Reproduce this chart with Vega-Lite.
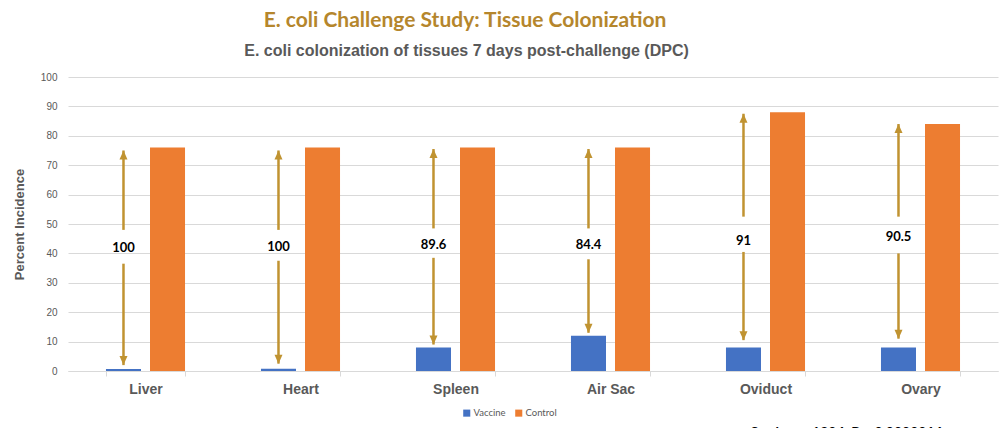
{
  "$schema": "https://vega.github.io/schema/vega-lite/v6.json",
  "autosize": {"type": "none"},
  "width": 930,
  "height": 294,
  "padding": {"left": 68, "top": 77, "right": 3, "bottom": 57},
  "background": "white",
  "config": {
    "view": {"stroke": null},
    "axisY": {
      "titleFont": "Liberation Sans",
      "titleFontSize": 13,
      "titleFontWeight": "bold",
      "titleColor": "#595959",
      "titlePadding": 14,
      "tickCount": 10,
      "labelOverlap": false,
      "labelFont": "Liberation Sans",
      "labelFontSize": 10,
      "labelColor": "#595959",
      "labelPadding": 11,
      "domain": false,
      "ticks": false,
      "grid": true,
      "gridColor": "#D9D9D9"
    }
  },
  "title": {
    "text": "E. coli Challenge Study: Tissue Colonization",
    "anchor": "middle",
    "frame": "group",
    "font": "Lato",
    "fontSize": 21,
    "fontWeight": "bold",
    "color": "#B5862C",
    "dx": -68,
    "offset": 11
  },
  "datasets": {
    "bars": [
      {"tissue": "Liver", "group": "Vaccine", "value": 0.7},
      {"tissue": "Liver", "group": "Control", "value": 76},
      {"tissue": "Heart", "group": "Vaccine", "value": 0.8},
      {"tissue": "Heart", "group": "Control", "value": 76},
      {"tissue": "Spleen", "group": "Vaccine", "value": 8},
      {"tissue": "Spleen", "group": "Control", "value": 76},
      {"tissue": "Air Sac", "group": "Vaccine", "value": 12},
      {"tissue": "Air Sac", "group": "Control", "value": 76},
      {"tissue": "Oviduct", "group": "Vaccine", "value": 8},
      {"tissue": "Oviduct", "group": "Control", "value": 88},
      {"tissue": "Ovary", "group": "Vaccine", "value": 8},
      {"tissue": "Ovary", "group": "Control", "value": 84}
    ],
    "arrows": [
      {"tissue": "Liver", "grp": "Vaccine", "top": 75, "upEnd": 48, "label": "100", "labelY": 42, "lowStart": 36.5, "bottom": 2},
      {"tissue": "Heart", "grp": "Vaccine", "top": 75, "upEnd": 48, "label": "100", "labelY": 42.3, "lowStart": 37.5, "bottom": 2.5},
      {"tissue": "Spleen", "grp": "Vaccine", "top": 75.5, "upEnd": 48.5, "label": "89.6", "labelY": 43, "lowStart": 38.5, "bottom": 9},
      {"tissue": "Air Sac", "grp": "Vaccine", "top": 75.5, "upEnd": 48.5, "label": "84.4", "labelY": 43, "lowStart": 38, "bottom": 13},
      {"tissue": "Oviduct", "grp": "Vaccine", "top": 87.5, "upEnd": 52.5, "label": "91", "labelY": 44.3, "lowStart": 40.5, "bottom": 10.5},
      {"tissue": "Ovary", "grp": "Vaccine", "top": 84, "upEnd": 52.5, "label": "90.5", "labelY": 45.6, "lowStart": 40, "bottom": 11}
    ]
  },
  "resolve": {"axis": {"x": "independent"}},
  "layer": [
    {
      "data": {"name": "bars"},
      "mark": {"type": "bar"},
      "encoding": {
        "x": {
          "field": "tissue",
          "type": "nominal",
          "sort": null,
          "scale": {"domain": ["Liver", "Heart", "Spleen", "Air Sac", "Oviduct", "Ovary"], "paddingInner": 0.49, "paddingOuter": 0.245},
          "axis": {
            "orient": "bottom",
            "title": "Study no. 1804, P < 0.0000016",
            "titleFont": "Lato",
            "titleFontSize": 14,
            "titleFontWeight": "bold",
            "titleColor": "#000000",
            "titleAnchor": "start",
            "titleAlign": "left",
            "titleBaseline": "middle",
            "titleX": 682,
            "titleY": 61,
            "labelAngle": 0,
            "labelFont": "Liberation Sans",
            "labelFontSize": 14,
            "labelFontWeight": "bold",
            "labelColor": "#595959",
            "labelPadding": 6,
            "tickBand": "extent",
            "tickSize": 5,
            "tickColor": "#D9D9D9",
            "domainColor": "#D9D9D9",
            "grid": false
          }
        },
        "xOffset": {"field": "group", "type": "nominal", "scale": {"domain": ["Vaccine", "Control"], "paddingInner": 0.2045, "paddingOuter": 0}},
        "y": {
          "field": "value",
          "type": "quantitative",
          "scale": {"domain": [0, 100], "nice": false},
          "axis": {"title": "Percent Incidence"}
        },
        "color": {
          "field": "group",
          "type": "nominal",
          "scale": {"domain": ["Vaccine", "Control"], "range": ["#4472C4", "#ED7D31"]},
          "legend": {
            "title": null,
            "orient": "none",
            "direction": "horizontal",
            "legendX": 394,
            "legendY": 331,
            "symbolType": "square",
            "symbolSize": 50,
            "symbolStrokeWidth": 0,
            "labelFont": "Lato",
            "labelFontSize": 9.5,
            "labelColor": "#595959",
            "columnPadding": 8,
            "labelOffset": 2
          }
        }
      }
    },
    {
      "data": {"name": "arrows"},
      "mark": {"type": "rule", "color": "#C09331", "strokeWidth": 2.5},
      "encoding": {
        "x": {
          "field": "tissue",
          "type": "nominal",
          "sort": null,
          "axis": {
            "orient": "top",
            "title": "E. coli colonization of tissues 7 days post-challenge (DPC)",
            "titleFont": "Liberation Sans",
            "titleFontSize": 16,
            "titleFontWeight": "bold",
            "titleColor": "#595959",
            "titleAnchor": "middle",
            "titleAlign": "center",
            "titleBaseline": "middle",
            "titleX": 398,
            "titleY": -27,
            "labels": false,
            "ticks": false,
            "domain": false,
            "grid": false
          }
        },
        "xOffset": {"field": "grp", "type": "nominal"},
        "y": {"field": "top", "type": "quantitative", "axis": {"title": "Percent Incidence"}},
        "y2": {"field": "upEnd"}
      }
    },
    {
      "data": {"name": "arrows"},
      "mark": {"type": "rule", "color": "#C09331", "strokeWidth": 2.5},
      "encoding": {
        "x": {"field": "tissue", "type": "nominal", "sort": null, "axis": null},
        "xOffset": {"field": "grp", "type": "nominal"},
        "y": {"field": "lowStart", "type": "quantitative", "axis": {"title": "Percent Incidence"}},
        "y2": {"field": "bottom"}
      }
    },
    {
      "data": {"name": "arrows"},
      "mark": {"type": "point", "filled": true, "opacity": 1, "color": "#C09331", "size": 100, "shape": "M0,0L0.8,1.8L-0.8,1.8Z"},
      "encoding": {
        "x": {"field": "tissue", "type": "nominal", "sort": null, "axis": null},
        "xOffset": {"field": "grp", "type": "nominal"},
        "y": {"field": "top", "type": "quantitative", "axis": {"title": "Percent Incidence"}}
      }
    },
    {
      "data": {"name": "arrows"},
      "mark": {"type": "point", "filled": true, "opacity": 1, "color": "#C09331", "size": 100, "shape": "M0,0L0.8,-1.8L-0.8,-1.8Z"},
      "encoding": {
        "x": {"field": "tissue", "type": "nominal", "sort": null, "axis": null},
        "xOffset": {"field": "grp", "type": "nominal"},
        "y": {"field": "bottom", "type": "quantitative", "axis": {"title": "Percent Incidence"}}
      }
    },
    {
      "data": {"name": "arrows"},
      "mark": {"type": "text", "font": "Lato", "fontSize": 13, "fontWeight": "bold", "color": "#000000", "baseline": "middle"},
      "encoding": {
        "x": {"field": "tissue", "type": "nominal", "sort": null, "axis": null},
        "xOffset": {"field": "grp", "type": "nominal"},
        "y": {"field": "labelY", "type": "quantitative", "axis": {"title": "Percent Incidence"}},
        "text": {"field": "label"}
      }
    }
  ]
}
